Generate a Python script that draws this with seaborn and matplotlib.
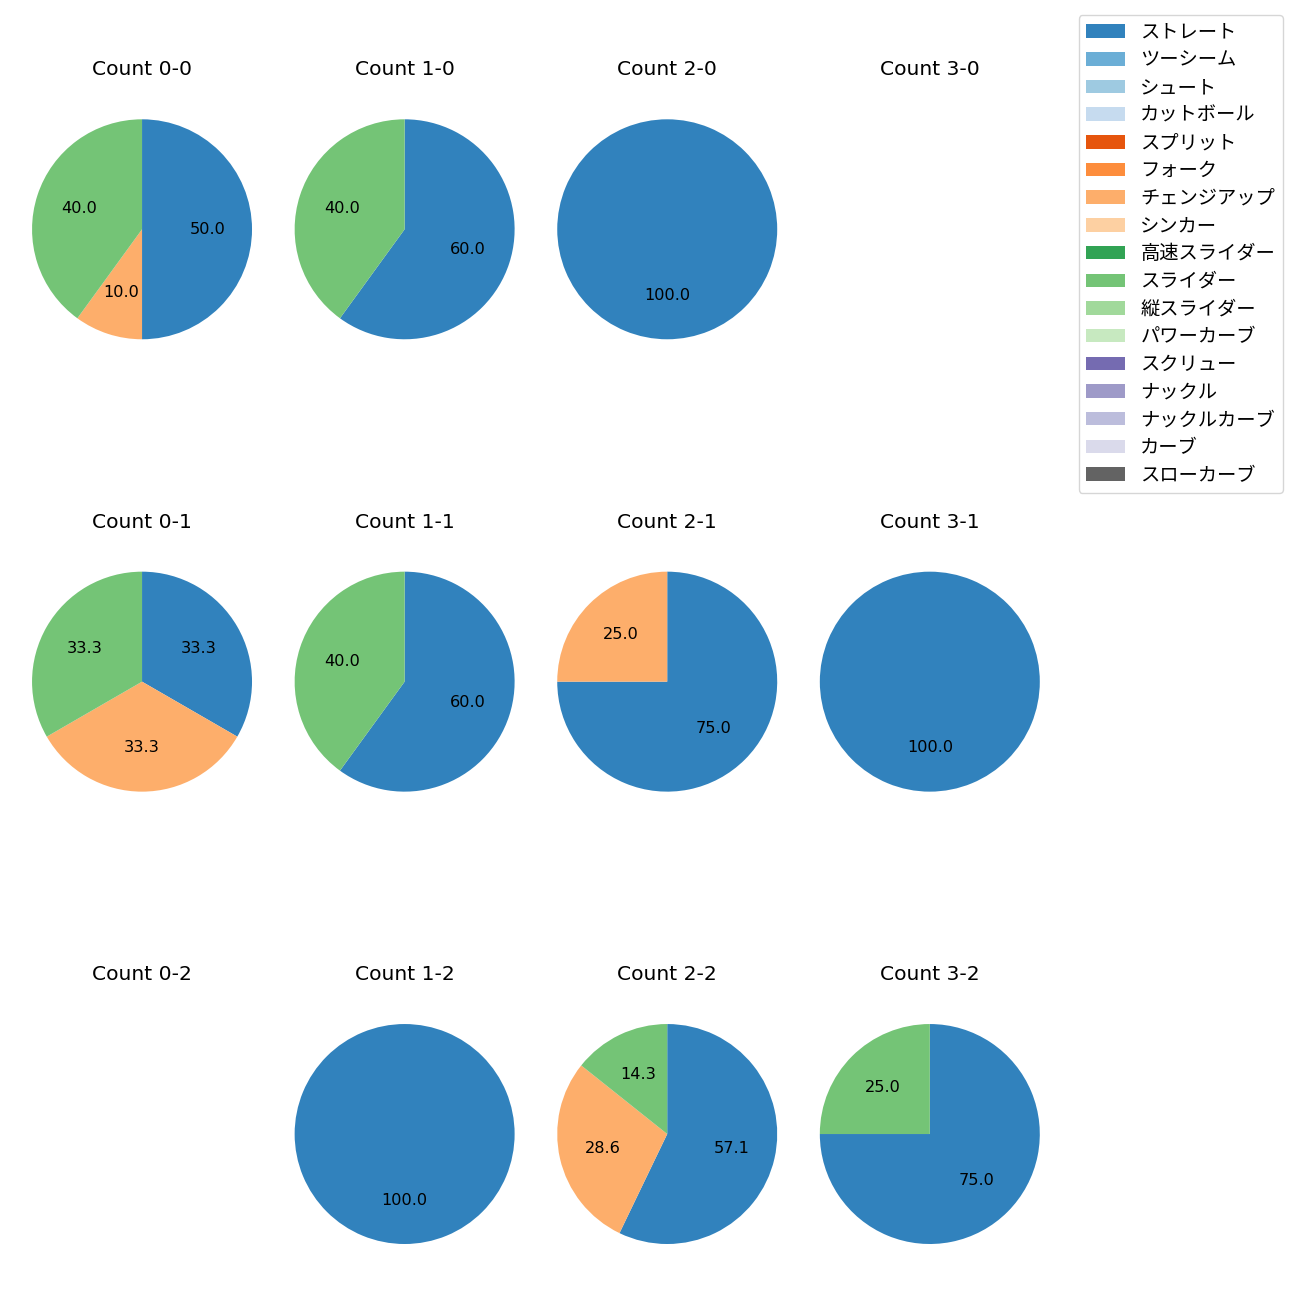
import matplotlib
matplotlib.use("Agg")
from matplotlib import pyplot as plt
from matplotlib.patches import Patch
import seaborn as sns

plt.rcParams["font.family"] = ["DejaVu Sans", "Noto Sans CJK JP"]

pitch_types = [
    "ストレート", "ツーシーム", "シュート", "カットボール", "スプリット", "フォーク",
    "チェンジアップ", "シンカー", "高速スライダー", "スライダー", "縦スライダー",
    "パワーカーブ", "スクリュー", "ナックル", "ナックルカーブ", "カーブ", "スローカーブ",
]

# counts in grid order: balls across, strikes down
count_labels = [
    "0-0", "1-0", "2-0", "3-0",
    "0-1", "1-1", "2-1", "3-1",
    "0-2", "1-2", "2-2", "3-2",
]
straight = [5, 3, 2, 0, 1, 3, 3, 1, 0, 1, 4, 3]
changeup = [1, 0, 0, 0, 1, 0, 1, 0, 0, 0, 2, 0]
slider = [4, 2, 0, 0, 1, 2, 0, 0, 0, 0, 1, 1]

colors = sns.color_palette("tab20c", 20)[:17]
pitch_values = {"ストレート": straight, "チェンジアップ": changeup, "スライダー": slider}

fig, axes = plt.subplots(3, 4, figsize=(13, 13), dpi=100)
fig.subplots_adjust(left=0.0035, right=0.821, top=0.939, bottom=0.0123,
                    wspace=-0.045, hspace=0.508)

for i, ax in enumerate(axes.flat):
    vals, cols = [], []
    for j, name in enumerate(pitch_types):
        if name in pitch_values and pitch_values[name][i] > 0:
            vals.append(pitch_values[name][i])
            cols.append(colors[j])
    if vals:
        ax.pie(vals, colors=cols, autopct="%.1f", startangle=90, counterclock=False,
               wedgeprops={"edgecolor": "none", "linewidth": 0},
               textprops={"fontsize": 11.6})
    else:
        ax.set_aspect("equal")
        ax.set_xlim(-1.25, 1.25)
        ax.set_ylim(-1.25, 1.25)
        ax.axis("off")
    ax.set_title("Count " + count_labels[i], fontsize=14.6, pad=12)

handles = [Patch(facecolor=colors[j], label=name) for j, name in enumerate(pitch_types)]
fig.legend(handles=handles, loc="upper right", bbox_to_anchor=(0.9942, 0.9958),
           fontsize=13.9, labelspacing=0.45)

fig.savefig("out.png")
